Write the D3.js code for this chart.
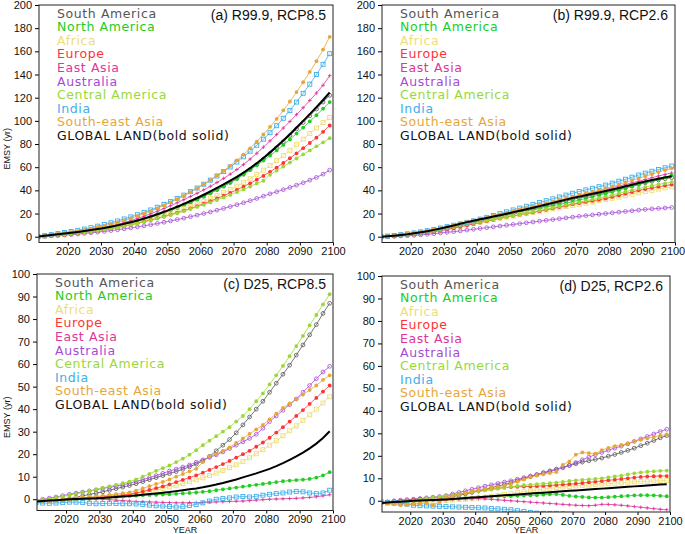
<!DOCTYPE html>
<html>
<head>
<meta charset="utf-8">
<script src="https://cdn.jsdelivr.net/npm/d3@7"></script>
<style>
  body { margin: 0; background: #fff; }
  svg { display: block; }
  .tick text { font-family: "Liberation Sans", Arial, sans-serif; font-size: 11px; fill: #111; }
  .legend text { font-family: "DejaVu Sans", sans-serif; font-size: 12.5px; letter-spacing: 0.6px; }
  .title { font-family: "Liberation Sans", Arial, sans-serif; font-size: 14px; fill: #111; }
  .axlabel { font-family: "Liberation Sans", Arial, sans-serif; font-size: 9px; fill: #111; }
</style>
</head>
<body>
<div id="chart"></div>
<script>
// years of the plotted points (every 2nd year)
const years = d3.range(2011, 2100, 2);

const regionNames = ["South America", "North America", "Africa", "Europe", "East Asia",
  "Australia", "Central America", "India", "South-east Asia", "GLOBAL LAND(bold solid)"];

// (a) R99.9, RCP8.5
const aSouthAmerica = [0,0.6,1.2,1.8,2.4,3.0,3.7,4.5,5.3,6.1,7.0,8.1,9.3,10.6,12.0,13.5,15.2,17.0,18.9,20.9,23.0,25.2,27.5,29.9,32.4,35.0,37.8,40.7,43.7,46.9,50.3,54.0,58.0,62.4,67.0,71.8,76.8,82.0,87.4,93.0,98.6,104.4,110.2,116.2,122.0];
const aNorthAmerica = [0,0.6,1.2,1.8,2.4,3.0,3.7,4.5,5.3,6.1,7.0,8.0,9.2,10.5,11.9,13.4,15.0,16.7,18.5,20.5,22.6,24.8,27.1,29.5,32.0,34.7,37.5,40.4,43.4,46.6,50.0,53.6,57.5,61.6,65.7,70.0,74.5,79.2,84.0,89.0,94.2,99.5,104.9,110.5,116.2];
const aAfrica = [0,0.5,1.0,1.5,2.0,2.6,3.3,4.1,4.9,5.7,6.6,7.6,8.7,9.9,11.2,12.6,14.0,15.5,17.1,18.8,20.5,22.3,24.2,26.2,28.3,30.5,32.9,35.4,38.0,40.7,43.6,46.7,50.0,53.6,57.4,61.4,65.6,70.0,74.6,79.4,84.2,89.0,93.8,98.5,103.0];
const aEurope = [0,0.5,1.0,1.5,2.0,2.5,3.1,3.8,4.5,5.3,6.1,7.0,8.0,9.1,10.3,11.6,13.0,14.4,15.9,17.4,19.0,20.7,22.5,24.4,26.4,28.5,30.7,33.0,35.4,37.9,40.5,43.2,46.1,49.2,52.5,56.0,59.7,63.6,67.7,72.0,76.4,80.9,85.5,90.5,96.0];
const aEastAsia = [0,0.7,1.4,2.1,2.7,3.4,4.2,5.1,6.0,6.9,8.0,9.3,10.7,12.2,13.9,15.8,17.7,19.8,22.0,24.3,26.7,29.3,32.0,34.7,37.5,40.4,43.5,46.8,50.3,54.0,58.0,62.3,67.0,72.0,77.3,82.7,88.2,93.8,99.5,105.4,111.4,117.6,124.0,130.7,139.0];
const aAustralia = [0,0.3,0.7,1.0,1.4,1.8,2.3,2.8,3.4,4.0,4.6,5.3,6.0,6.8,7.6,8.5,9.4,10.4,11.4,12.5,13.6,14.8,16.0,17.3,18.6,20.0,21.4,22.9,24.4,26.0,27.6,29.3,31.1,33.0,35.0,37.0,38.8,40.6,42.5,44.5,46.6,48.8,51.2,54.0,57.5];
const aCentralAmerica = [0,0.5,1.0,1.5,2.0,2.5,3.1,3.8,4.5,5.3,6.1,7.0,8.0,9.1,10.3,11.5,12.8,14.2,15.7,17.2,18.8,20.4,22.1,23.9,25.7,27.6,29.6,31.7,33.9,36.1,38.4,40.8,43.3,46.0,48.3,53.5,57.0,60.5,64.0,67.5,71.0,74.5,78.0,81.5,85.0];
const aIndia = [0,0.9,1.8,2.7,3.6,4.5,5.5,6.6,7.8,9.1,10.5,12.0,13.6,15.3,17.1,19.0,21.0,23.1,25.4,27.8,30.3,33.0,35.9,38.9,42.0,45.3,48.8,52.4,56.2,60.2,64.5,69.0,73.8,78.9,84.2,89.8,95.8,102.2,109.0,116.2,123.8,131.7,140.0,148.8,158.0];
const aSouthEastAsia = [0,0.8,1.6,2.4,3.2,4.0,4.9,5.9,7.0,8.2,9.4,10.8,12.3,14.0,15.8,17.8,19.9,22.1,24.5,27.0,29.6,32.4,35.3,38.4,41.7,45.2,48.9,52.8,56.9,61.2,65.9,70.9,76.3,82.1,88.3,94.8,101.7,109.0,116.7,124.8,133.3,142.2,151.5,161.5,172.5];
const aGlobal = [0,0.8,1.5,2.2,2.8,3.4,4.1,4.9,5.7,6.6,7.5,8.6,9.8,11.1,12.5,14.0,15.7,17.5,19.4,21.4,23.6,25.9,28.3,30.8,33.4,36.2,39.1,42.1,45.2,48.4,51.7,55.3,59.2,63.4,68.0,72.8,77.8,83.0,88.5,94.3,100.0,105.8,111.8,118.0,124.5];

// (b) R99.9, RCP2.6
const bSouthAmerica = [0,0.3,0.7,1.2,1.8,2.5,3.3,4.2,5.2,6.2,7.4,8.7,10.1,11.5,12.7,13.9,15.1,16.3,17.5,18.7,19.9,21.2,22.5,23.8,25.2,26.6,28.0,29.4,30.8,32.2,33.4,34.6,35.8,37.0,38.3,39.6,41.0,42.4,43.8,45.2,46.5,47.8,49.0,50.1,51.0];
const bNorthAmerica = [0,0.3,0.7,1.2,1.8,2.4,3.2,4.1,5.0,6.1,7.2,8.4,9.7,11.0,12.2,13.4,14.6,15.8,17.0,18.2,19.4,20.6,21.8,23.0,24.2,25.4,26.6,27.8,29.0,30.2,31.6,33.0,34.4,35.8,37.2,38.7,40.2,41.8,43.4,45.0,46.6,48.2,49.8,51.4,53.0];
const bAfrica = [0,0.3,0.7,1.1,1.6,2.2,2.9,3.7,4.6,5.5,6.6,7.7,8.9,10.1,11.3,12.5,13.7,14.9,16.0,17.0,18.0,19.0,20.0,21.0,22.0,23.0,24.0,25.0,26.0,27.0,28.0,29.0,30.0,31.0,32.0,33.1,34.2,35.4,36.6,37.8,38.9,40.0,41.1,42.1,43.0];
const bEurope = [0,0.3,0.6,1.0,1.5,2.1,2.8,3.5,4.3,5.2,6.2,7.4,8.6,9.8,11.0,12.2,13.4,14.6,15.8,17.0,18.0,19.0,20.0,21.0,22.0,23.2,24.4,25.6,26.8,28.0,29.0,30.0,31.0,32.0,33.0,34.4,35.8,37.2,38.6,40.0,41.1,42.2,43.2,44.1,45.0];
const bEastAsia = [0,0.4,0.9,1.5,2.1,2.8,3.6,4.6,5.6,6.6,7.8,9.0,10.3,11.6,12.9,14.3,15.7,17.1,18.5,19.9,21.3,22.7,24.1,25.5,26.9,28.3,29.7,31.1,32.5,33.9,35.3,36.7,38.1,39.5,40.9,42.3,43.7,45.1,46.5,47.9,49.4,50.9,52.4,53.8,55.0];
const bAustralia = [0,0.2,0.4,0.7,0.9,1.2,1.6,2.1,2.6,3.2,3.8,4.4,5.0,5.7,6.4,7.1,7.8,8.5,9.2,9.9,10.6,11.3,12.0,12.7,13.4,14.1,14.8,15.5,16.2,16.9,17.6,18.2,18.8,19.4,20.0,20.6,21.2,21.8,22.4,23.0,23.5,24.0,24.4,24.8,25.2];
const bCentralAmerica = [0,0.3,0.7,1.2,1.7,2.4,3.2,4.1,5.0,6.0,7.2,8.4,9.6,10.8,11.8,12.8,13.8,14.8,15.8,16.8,17.9,19.0,20.2,21.4,22.6,23.8,25.0,26.2,27.4,28.6,29.8,31.0,32.2,33.4,34.6,36.0,37.4,38.8,40.2,41.6,42.8,44.0,45.1,46.1,47.0];
const bIndia = [0,0.5,1.1,1.8,2.5,3.3,4.2,5.2,6.3,7.5,8.7,9.9,11.1,12.4,13.7,15.2,16.7,18.3,19.9,21.5,23.1,24.7,26.3,27.9,29.5,31.1,32.7,34.3,35.9,37.5,39.0,40.4,41.8,43.2,44.6,46.2,47.9,49.6,51.4,53.2,54.9,56.5,58.0,59.5,61.0];
const bSouthEastAsia = [0,0.5,1.1,1.7,2.4,3.2,4.1,5.1,6.2,7.4,8.6,9.9,11.2,12.6,14.0,15.4,16.7,18.0,19.3,20.6,22.0,23.4,24.8,26.2,27.6,29.0,30.4,31.8,33.2,34.6,36.0,37.4,38.8,40.2,41.6,43.3,45.0,46.8,48.6,50.4,52.2,54.0,55.8,57.5,59.0];
const bGlobal = [0,0.4,0.9,1.5,2.1,2.9,3.8,4.8,5.9,7.0,8.3,9.7,11.2,12.6,13.8,15.0,16.2,17.4,18.6,19.8,21.1,22.4,23.7,25.0,26.4,27.8,29.2,30.6,32.0,33.4,34.6,35.8,37.0,38.2,39.5,40.8,42.1,43.5,44.9,46.3,47.6,48.9,50.1,51.2,52.2];

// (c) D25, RCP8.5
const cSouthAmerica = [-1,-0.8,-0.6,-0.3,0,0.4,0.9,1.5,2.1,2.7,3.3,4.0,4.7,5.4,6.1,6.9,7.8,8.7,9.6,10.5,11.4,12.3,13.3,14.4,15.6,17.0,19.0,21.5,24.0,26.5,29.5,33.0,36.5,40.0,43.5,47.5,51.5,55.5,59.5,64.0,68.5,73.0,77.5,82.5,87.0];
const cNorthAmerica = [-1,-0.9,-0.8,-0.7,-0.6,-0.4,-0.2,0,0.2,0.4,0.6,0.8,1.0,1.2,1.4,1.6,1.8,1.9,2.0,2.1,2.2,2.4,2.6,2.8,3.0,3.3,3.6,4.0,4.4,4.8,5.2,5.6,6.0,6.4,6.8,7.2,7.6,8.0,8.3,8.5,8.7,9.0,9.6,10.6,12.0];
const cAfrica = [-1,-0.8,-0.6,-0.4,-0.2,0,0.2,0.4,0.6,0.8,1.0,1.2,1.4,1.7,2.0,2.4,2.9,3.5,4.1,4.8,5.5,6.2,7.0,7.8,8.6,9.5,10.5,11.6,12.8,14.0,15.3,16.8,18.4,20.2,22.0,24.0,26.0,28.2,30.4,32.6,35.0,37.5,40.0,42.7,45.5];
const cEurope = [-1,-0.8,-0.6,-0.4,-0.2,0.1,0.3,0.5,0.7,0.9,1.1,1.3,1.6,1.9,2.3,2.8,3.4,4.1,4.9,5.7,6.6,7.6,8.6,9.6,10.6,11.8,13.0,14.3,15.6,17.0,18.5,20.0,21.5,23.3,25.2,27.3,29.6,32.0,34.5,37.0,39.6,42.3,45.0,47.8,50.5];
const cEastAsia = [-1,-0.8,-0.6,-0.4,-0.2,0,0.1,0.2,0.2,0.1,0,-0.2,-0.4,-0.6,-0.8,-1.0,-1.1,-1.2,-1.3,-1.4,-1.5,-1.6,-1.6,-1.5,-1.5,-1.4,-1.3,-1.2,-1.1,-1.0,-0.9,-0.8,-0.6,-0.4,-0.2,0,0.1,0.2,0.3,0.4,0.6,0.8,1.1,1.5,2.0];
const cAustralia = [-0.5,0,0.5,1.0,1.6,2.2,2.7,3.2,3.7,4.2,4.8,5.3,5.8,6.4,7.1,7.9,8.7,9.6,10.5,11.5,12.5,13.4,14.3,15.2,16.4,17.5,18.6,19.7,21.0,22.5,24.0,25.5,27.0,28.8,31.5,34.5,37.0,39.5,42.0,44.5,47.5,50.5,53.5,56.5,59.0];
const cCentralAmerica = [-0.5,-0.2,0.2,0.7,1.2,1.8,2.4,3.0,3.6,4.3,5.0,5.7,6.4,7.1,7.8,8.8,10.0,11.3,12.6,13.8,15.0,16.5,18.0,19.8,21.8,24.0,26.0,28.0,30.0,32.0,34.5,37.0,40.0,43.5,47.0,51.0,55.0,59.2,63.5,68.0,72.5,77.2,81.8,86.5,91.0];
const cIndia = [-1.5,-1.7,-1.8,-1.7,-1.5,-1.3,-1.3,-1.5,-1.8,-2.0,-1.9,-1.8,-1.9,-2.0,-2.0,-2.1,-2.3,-2.6,-2.9,-3.0,-3.2,-3.5,-3.3,-2.8,-2.3,-1.6,-0.8,0,0.3,0.6,1.0,1.2,1.0,1.3,1.8,2.2,2.5,2.8,3.2,3.5,3.3,2.8,2.5,2.8,4.0];
const cSouthEastAsia = [-1,-0.8,-0.6,-0.4,-0.2,0,0.3,0.6,0.9,1.2,1.5,1.9,2.3,2.7,3.0,3.8,4.8,5.8,6.8,7.7,8.8,10.0,11.2,12.4,13.5,16.5,19.0,20.0,21.5,23.0,25.0,27.0,29.0,31.0,33.0,35.5,38.0,40.5,42.5,44.5,46.5,48.5,50.5,53.0,55.0];
const cGlobal = [-1,-0.8,-0.6,-0.4,-0.2,0,0.1,0.2,0.3,0.4,0.6,0.8,1.0,1.2,1.4,1.7,2.0,2.3,2.6,2.9,3.2,3.6,4.0,4.4,4.8,5.3,5.9,6.5,7.2,8.0,8.8,9.7,10.6,11.5,12.5,13.5,14.7,16.0,17.5,19.0,20.7,22.6,24.7,27.2,30.2];

// (d) D25, RCP2.6
const dSouthAmerica = [-1,-0.8,-0.6,-0.4,-0.2,0,0.2,0.4,0.6,0.8,1.2,1.8,2.4,3.0,3.7,4.4,5.1,5.8,6.5,7.2,8.0,8.9,9.8,10.7,11.6,12.5,13.3,14.1,14.9,15.7,16.5,17.2,17.8,18.4,19.0,19.8,20.6,21.5,22.4,23.4,24.5,25.6,26.8,28.0,29.0];
const dNorthAmerica = [-1,-0.9,-0.8,-0.7,-0.6,-0.4,-0.2,0,0.2,0.4,0.6,0.8,1.0,1.2,1.4,1.6,1.7,1.8,1.9,2.0,2.1,2.2,2.3,2.4,2.5,2.7,2.9,3.0,2.6,2.2,1.9,1.7,1.5,1.4,1.4,1.6,1.8,2.0,2.2,2.4,2.5,2.5,2.4,2.2,2.0];
const dAfrica = [-1,-1.1,-1.2,-1.3,-1.2,-1.0,-0.8,-0.6,-0.4,-0.2,0.1,0.3,0.5,0.7,0.9,1.2,1.6,2.0,2.4,2.8,3.2,3.6,4.0,4.4,4.8,5.2,5.5,5.8,6.1,6.4,6.6,6.8,7.0,7.2,7.4,7.6,7.8,8.0,8.2,8.4,8.6,8.7,8.8,8.9,9.0];
const dEurope = [-1,-0.6,-0.2,0.1,0.3,0.6,0.9,1.1,1.3,1.5,1.9,2.5,3.0,3.5,3.9,4.3,4.7,5.1,5.5,5.9,6.1,6.2,6.3,6.4,6.5,6.6,6.8,7.0,7.2,7.4,7.6,7.9,8.2,8.5,8.8,9.1,9.4,9.7,10.0,10.3,10.6,10.8,10.9,11.0,11.0];
const dEastAsia = [-1,-0.8,-0.6,-0.4,-0.2,0,0.1,0.2,0.3,0.4,0.5,0.6,0.7,0.8,0.9,1.0,0.8,0.6,0.4,0.2,0,-0.2,-0.4,-0.6,-0.8,-1.0,-1.2,-1.4,-1.6,-1.8,-2.0,-2.1,-2.2,-2.0,-1.6,-1.6,-1.8,-2.0,-2.3,-2.6,-2.9,-3.2,-3.5,-3.8,-4.0];
const dAustralia = [-1,-0.5,0,0.3,0.5,0.7,1.0,1.3,1.6,1.9,2.3,3.0,3.7,4.4,5.1,5.8,6.5,7.1,7.7,8.3,8.9,9.6,10.3,11.0,11.6,12.3,13.0,13.8,14.7,15.8,17.0,18.2,19.4,20.5,21.5,22.5,23.4,24.3,25.3,26.4,27.5,28.6,29.7,30.8,31.8];
const dCentralAmerica = [-1,-0.7,-0.5,-0.3,-0.1,0.2,0.6,1.0,1.4,1.8,2.2,2.6,3.0,3.4,3.8,4.2,4.6,5.0,5.4,5.8,6.2,6.6,6.9,7.2,7.4,7.6,7.8,8.1,8.4,8.8,9.1,9.3,9.5,9.7,10.0,10.4,10.8,11.2,11.7,12.2,12.6,12.9,13.1,13.3,13.4];
const dIndia = [-0.5,-0.7,-0.9,-1.1,-1.5,-2.0,-2.2,-2.3,-2.4,-2.5,-2.6,-2.7,-2.8,-2.9,-3.0,-3.1,-3.2,-3.4,-3.6,-3.8,-4.0,-4.4,-4.8,-5.2,-5.5,-5.6,-5.6,-5.6,-5.8,-6.0,-6.2,-6.4,-6.6,-6.8,-7.0,-7.2,-7.4,-7.6,-7.8,-8.0,-8.2,-8.4,-8.6,-8.8,-9.0];
const dSouthEastAsia = [-1,-1.3,-1.6,-2.0,-1.8,-1.4,-1.2,-1.0,-2.0,-0.5,1.3,2.0,2.7,3.4,4.2,4.8,5.3,5.8,6.3,6.8,7.5,8.5,9.5,10.5,11.2,11.8,12.3,12.8,16.0,17.5,20.5,21.5,21.2,21.0,22.5,23.5,24.3,24.8,25.5,26.5,27.2,27.8,28.4,29.0,29.5];
const dGlobal = [-1,-0.8,-0.6,-0.4,-0.2,0,0.1,0.2,0.3,0.4,0.6,0.8,1.0,1.2,1.4,1.6,1.8,2.0,2.2,2.4,2.6,2.8,3.0,3.2,3.4,3.6,3.8,4.0,4.2,4.4,4.6,4.8,5.0,5.2,5.4,5.6,5.8,6.0,6.2,6.4,6.6,6.8,7.0,7.2,7.4];

const xTicks = [2020, 2030, 2040, 2050, 2060, 2070, 2080, 2090, 2100];

// look of each region: color + marker
const styles = [
  { color: '#555555', marker: 'ocircle' },
  { color: '#22cc22', marker: 'dot' },
  { color: '#eedd77', marker: 'osquare' },
  { color: '#ff3333', marker: 'dot' },
  { color: '#e0369b', marker: 'plus' },
  { color: '#a64bd6', marker: 'ocircle' },
  { color: '#9ad838', marker: 'dot' },
  { color: '#3eaeea', marker: 'osquare' },
  { color: '#e8a638', marker: 'dot' },
  { color: '#000000', marker: 'none' }
];

const panels = [
  { title: '(a) R99.9, RCP8.5', box: [39, 5, 333, 242.5], yDom: [-5, 200], yTicks: d3.range(0, 201, 20), ylab: true, xlab: false,
    series: [aSouthAmerica, aNorthAmerica, aAfrica, aEurope, aEastAsia, aAustralia, aCentralAmerica, aIndia, aSouthEastAsia, aGlobal] },
  { title: '(b) R99.9, RCP2.6', box: [382, 5, 675, 242.5], yDom: [-5, 200], yTicks: d3.range(0, 201, 20), ylab: false, xlab: false,
    series: [bSouthAmerica, bNorthAmerica, bAfrica, bEurope, bEastAsia, bAustralia, bCentralAmerica, bIndia, bSouthEastAsia, bGlobal] },
  { title: '(c) D25, RCP8.5', box: [37, 274, 333, 510.5], yDom: [-5, 100], yTicks: d3.range(0, 101, 10), ylab: true, xlab: true,
    series: [cSouthAmerica, cNorthAmerica, cAfrica, cEurope, cEastAsia, cAustralia, cCentralAmerica, cIndia, cSouthEastAsia, cGlobal] },
  { title: '(d) D25, RCP2.6', box: [382, 276, 670, 512], yDom: [-5, 100], yTicks: d3.range(0, 101, 10), ylab: false, xlab: true,
    series: [dSouthAmerica, dNorthAmerica, dAfrica, dEurope, dEastAsia, dAustralia, dCentralAmerica, dIndia, dSouthEastAsia, dGlobal] }
];

const W = 685, H = 534;
const svg = d3.select('#chart').append('svg').attr('width', W).attr('height', H);

panels.forEach((p, pi) => {
  const [x0, y0, x1, y1] = p.box;
  const x = d3.scaleLinear().domain([2011.3, 2100]).range([x0, x1]);
  const y = d3.scaleLinear().domain(p.yDom).range([y1, y0]);
  const g = svg.append('g');

  g.append('rect').attr('x', x0).attr('y', y0).attr('width', x1 - x0).attr('height', y1 - y0)
    .attr('fill', '#fff');

  const clipId = 'clip' + pi;
  g.append('clipPath').attr('id', clipId).append('rect')
    .attr('x', x0).attr('y', y0).attr('width', x1 - x0).attr('height', y1 - y0);

  // axes
  const ya = g.append('g').attr('transform', `translate(${x0},0)`)
    .call(d3.axisLeft(y).tickValues(p.yTicks).tickSize(4).tickPadding(3));
  ya.select('.domain').remove();
  const xa = g.append('g').attr('transform', `translate(0,${y1})`)
    .call(d3.axisBottom(x).tickValues(xTicks).tickFormat(d3.format('d')).tickSize(3).tickPadding(2));
  xa.select('.domain').remove();
  // keep the last year label inside the page
  if (x1 > 672) xa.selectAll('.tick text').filter(d => d === 2100).attr('dx', -2.5);

  // lines and markers
  const plot = g.append('g').attr('clip-path', `url(#${clipId})`);
  const line = d3.line().x((d, i) => x(years[i])).y(d => y(d));

  p.series.forEach((vals, si) => {
    const st = styles[si];
    plot.append('path').datum(vals)
      .attr('fill', 'none')
      .attr('stroke', st.color)
      .attr('stroke-width', st.marker === 'none' ? 2 : 0.8)
      .attr('d', line);

    const pts = plot.append('g').selectAll('g').data(vals).join('g')
      .attr('transform', (d, i) => `translate(${x(years[i])},${y(d)})`);
    if (st.marker === 'ocircle') {
      pts.append('circle').attr('r', 1.9).attr('fill', 'none').attr('stroke', st.color).attr('stroke-width', 0.8);
    } else if (st.marker === 'dot') {
      pts.append('circle').attr('r', 1.9).attr('fill', st.color);
    } else if (st.marker === 'osquare') {
      pts.append('rect').attr('x', -2).attr('y', -2).attr('width', 4).attr('height', 4)
        .attr('fill', 'none').attr('stroke', st.color).attr('stroke-width', 0.9);
    } else if (st.marker === 'plus') {
      pts.append('path').attr('d', 'M-1.8,0H1.8M0,-1.8V1.8').attr('stroke', st.color).attr('stroke-width', 0.9);
    }
  });

  // frame
  g.append('rect').attr('x', x0).attr('y', y0).attr('width', x1 - x0).attr('height', y1 - y0)
    .attr('fill', 'none').attr('stroke', '#222').attr('stroke-width', 1);

  // legend
  const leg = g.append('g').attr('class', 'legend');
  regionNames.forEach((name, i) => {
    leg.append('text')
      .attr('x', x0 + 18)
      .attr('y', y0 + 8 + i * 13.6)
      .attr('dy', '0.36em')
      .attr('fill', styles[i].color === '#000000' ? '#111' : styles[i].color)
      .text(name);
  });

  g.append('text').attr('class', 'title')
    .attr('x', x1 - 7).attr('y', y0 + 15)
    .attr('text-anchor', 'end')
    .text(p.title);

  if (p.ylab) {
    g.append('text').attr('class', 'axlabel')
      .attr('transform', `translate(10,${(y0 + y1) / 2 + 25}) rotate(-90)`)
      .attr('text-anchor', 'middle')
      .text('EMSY (yr)');
  }
  if (p.xlab) {
    g.append('text').attr('class', 'axlabel')
      .attr('x', (x0 + x1) / 2).attr('y', 533)
      .attr('text-anchor', 'middle')
      .text('YEAR');
  }
});
</script>
</body>
</html>
